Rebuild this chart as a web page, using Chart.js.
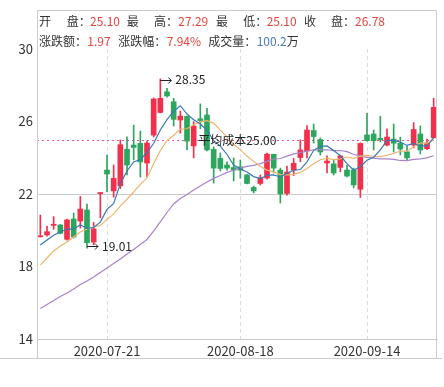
<!DOCTYPE html>
<html><head><meta charset="utf-8">
<script src="https://cdn.jsdelivr.net/npm/chart.js@4"></script>
<style>
html,body{margin:0;padding:0;background:#fff;}
#wrap{position:relative;width:444px;height:387px;overflow:hidden;}
#c{position:absolute;left:0;top:0;}
.h{position:absolute;font-size:12px;font-family:"Noto Sans CJK SC",sans-serif;line-height:14px;white-space:nowrap;color:#333;}
.r{color:#e8433c;}
.b{color:#4b7db6;}
</style></head>
<body><div id="wrap"><canvas id="c" width="444" height="387"></canvas><div id="hdr"></div></div>
<script>
const dates = ['2020-07-07','2020-07-08','2020-07-09','2020-07-10','2020-07-13','2020-07-14','2020-07-15','2020-07-16','2020-07-17','2020-07-20',
'2020-07-21','2020-07-22','2020-07-23','2020-07-24','2020-07-27','2020-07-28','2020-07-29','2020-07-30','2020-07-31',
'2020-08-03','2020-08-04','2020-08-05','2020-08-06','2020-08-07','2020-08-10','2020-08-11','2020-08-12','2020-08-13','2020-08-14','2020-08-17','2020-08-18','2020-08-19','2020-08-20','2020-08-21','2020-08-24','2020-08-25','2020-08-26','2020-08-27','2020-08-28','2020-08-31',
'2020-09-01','2020-09-02','2020-09-03','2020-09-04','2020-09-07','2020-09-08','2020-09-09','2020-09-10','2020-09-11','2020-09-14','2020-09-15','2020-09-16','2020-09-17','2020-09-18','2020-09-21','2020-09-22','2020-09-23','2020-09-24','2020-09-25','2020-09-28'];

const openP  = [19.64,19.74,20.27,20.29,19.50,20.62,20.51,21.12,19.35,22.02, 23.32,22.17,22.45,24.47,24.70,24.79,23.71,25.25,26.50,27.64, 27.09,26.08,26.28,24.65,26.15,26.36,24.46,23.97,23.60,23.46, 23.50,23.05,22.36,22.58,22.88,24.19,23.32,22.03,23.32,24.01, 24.37,25.50,25.00,23.71,23.66,23.47,23.32,23.32,22.26,25.26, 25.31,25.07,24.70,25.03,24.80,24.33,24.70,25.31,24.50,25.10];
const highP  = [20.84,20.23,20.75,20.32,20.62,20.95,21.86,21.45,20.43,22.08, 24.15,23.60,24.98,25.16,25.80,25.47,24.92,27.30,28.35,27.83, 27.28,26.58,26.30,25.99,26.97,26.73,24.60,24.26,23.77,23.99, 23.88,23.08,22.44,23.05,24.26,24.20,23.43,23.54,23.96,24.98, 25.78,25.86,25.09,24.10,23.88,24.15,23.60,23.43,24.82,26.45, 25.53,26.28,25.59,25.86,25.14,24.65,25.94,25.75,25.03,27.29];
const lowP   = [19.62,19.68,20.05,19.80,19.45,19.57,20.12,19.01,19.19,20.68, 22.13,21.83,22.30,23.05,23.88,22.94,22.94,25.14,26.47,27.34, 25.75,25.36,24.43,23.99,25.60,24.37,22.60,23.27,23.32,22.72, 22.88,22.55,22.06,22.50,22.82,23.16,21.50,21.94,23.02,23.78, 23.99,24.81,24.15,23.16,23.05,23.23,22.94,22.33,21.81,24.92, 24.43,24.88,24.65,24.32,24.15,23.88,24.54,24.21,24.45,25.10];
const closeP = [19.66,19.92,20.33,19.83,20.57,19.63,21.17,19.31,20.07,22.08, 23.10,22.86,24.72,23.60,24.57,23.77,24.81,27.24,27.28,27.41, 26.12,26.30,24.92,25.75,26.05,24.43,23.43,23.41,23.43,23.32, 23.32,22.58,22.17,22.88,24.20,23.43,22.00,23.21,23.69,24.43, 25.53,25.17,24.32,23.82,23.16,24.10,22.99,22.50,24.79,24.94, 24.94,25.00,25.14,24.80,24.48,23.99,25.56,24.43,24.81,26.78];

const ma5  = [19.19,19.46,19.72,19.90,20.07,20.06,20.31,20.10,20.15,20.45, 21.15,21.48,22.57,23.27,23.77,23.90,24.29,24.80,25.53,26.10, 26.57,26.87,26.41,26.10,25.86,25.52,24.94,24.64,24.18,23.60, 23.38,23.21,22.96,22.85,23.03,23.05,22.94,23.14,23.31,23.35, 23.77,24.41,24.63,24.65,24.40,24.11,23.68,23.31,23.51,23.86, 24.03,24.43,24.96,24.96,24.87,24.68,24.79,24.65,24.65,25.11];
const ma10 = [18.08,18.47,18.86,19.13,19.35,19.63,19.90,20.07,20.18,20.26, 20.60,20.90,21.33,21.71,22.11,22.53,22.89,23.68,24.40,24.94, 25.24,25.58,25.60,25.82,25.98,26.05,25.91,25.52,25.14,24.73, 24.45,24.08,23.80,23.52,23.32,23.22,23.07,23.05,23.08,23.19, 23.41,23.67,23.89,23.98,23.88,23.94,24.04,23.97,24.08,24.13, 24.07,24.06,24.14,24.24,24.37,24.36,24.61,24.81,24.81,24.99];
const ma30 = [15.68,15.90,16.12,16.34,16.54,16.76,17.01,17.20,17.42,17.67, 17.92,18.17,18.41,18.69,18.94,19.21,19.49,19.96,20.46,20.98, 21.45,21.75,21.97,22.22,22.44,22.66,22.86,23.02,23.19,23.31, 23.43,23.52,23.58,23.68,23.80,23.93,23.96,24.09,24.21,24.29, 24.37,24.44,24.43,24.44,24.39,24.40,24.34,24.18,24.10,24.02, 23.98,23.94,23.94,23.91,23.85,23.84,23.91,23.94,23.99,24.11];

const xTickLabels = ['2020-07-21','2020-08-18','2020-09-14'];
const yTicks = [14,18,22,26,30];
const avgCost = 25.00;
const volumeText = '100.2';

const FONT = '"Noto Sans CJK SC","Noto Sans",sans-serif';
const upColor = '#f0304c', downColor = '#2ba65c';
const candleColors = closeP.map((c, i) => c >= openP[i] ? upColor : downColor);

// header
const last = closeP.length - 1;
const chg = closeP[last] - closeP[last - 1];
const pct = chg / closeP[last - 1] * 100;
const hdrItems = [
  ['开', 39, 14, ''], ['盘：', 66.7, 14, ''], [openP[last].toFixed(2), 90, 14, 'r'],
  ['最', 126.7, 14, ''], ['高：', 154, 14, ''], [highP[last].toFixed(2), 178.3, 14, 'r'],
  ['最', 216, 14, ''], ['低：', 243.3, 14, ''], [lowP[last].toFixed(2), 266.7, 14, 'r'],
  ['收', 304, 14, ''], ['盘：', 331, 14, ''], [closeP[last].toFixed(2), 355, 14, 'r'],
  ['涨跌额：', 39, 33.5, ''], [chg.toFixed(2), 87.3, 33.5, 'r'],
  ['涨跌幅：', 118.3, 33.5, ''], [pct.toFixed(2) + '%', 166.7, 33.5, 'r'],
  ['成交量：', 208.3, 33.5, ''], [volumeText, 256.7, 33.5, 'b']
];
const hdr = document.getElementById('hdr');
hdrItems.forEach(([t, x, y, cls]) => {
  const s = document.createElement('span');
  s.className = 'h' + (cls ? ' ' + cls : '');
  s.style.left = x + 'px'; s.style.top = y + 'px';
  s.textContent = t;
  if (cls === 'b') { const w = document.createElement('span'); w.style.color = '#333'; w.textContent = '万'; s.appendChild(w); }
  hdr.appendChild(s);
});

function drawMarker(ctx, x0, y0, text) {
  const yy = Math.round(y0) + 0.5;
  ctx.beginPath();
  ctx.moveTo(x0, yy); ctx.lineTo(x0 + 11, yy);
  ctx.moveTo(x0 + 8, yy - 3); ctx.lineTo(x0 + 11, yy); ctx.lineTo(x0 + 8, yy + 3);
  ctx.stroke();
  ctx.fillText(text, x0 + 15, y0);
}

const framePlugin = {
  id: 'frame',
  beforeDatasetsDraw(chart) {
    const {ctx, chartArea, scales: {y}} = chart;
    const py = Math.round(y.getPixelForValue(avgCost)) + 0.5;
    ctx.save();
    ctx.strokeStyle = '#e0579c';
    ctx.lineWidth = 1;
    ctx.setLineDash([2, 3]);
    ctx.beginPath(); ctx.moveTo(chartArea.left, py); ctx.lineTo(chartArea.right, py); ctx.stroke();
    ctx.restore();
  },
  afterDatasetsDraw(chart) {
    const {ctx, scales: {x, y}} = chart;
    ctx.save();
    ctx.font = '12px ' + FONT;
    ctx.fillStyle = '#222';
    ctx.strokeStyle = '#222';
    ctx.lineWidth = 1;
    ctx.textBaseline = 'middle';
    ctx.textAlign = 'left';
    ctx.fillText('平均成本' + avgCost.toFixed(2), x.getPixelForValue(24) - 2, y.getPixelForValue(avgCost) + 1);
    let hi = 0, lo = 0;
    highP.forEach((v, i) => { if (v > highP[hi]) hi = i; });
    lowP.forEach((v, i) => { if (v < lowP[lo]) lo = i; });
    drawMarker(ctx, x.getPixelForValue(hi), y.getPixelForValue(highP[hi]) + 1, highP[hi].toFixed(2));
    drawMarker(ctx, x.getPixelForValue(lo), y.getPixelForValue(lowP[lo]) - 2, lowP[lo].toFixed(2));
    ctx.restore();
  },
  afterDraw(chart) {
    const {ctx} = chart;
    ctx.save();
    ctx.strokeStyle = '#cccccc';
    ctx.lineWidth = 1;
    ctx.beginPath();
    ctx.moveTo(37.5, 10.5); ctx.lineTo(436.5, 10.5);
    ctx.moveTo(37.5, 10.5); ctx.lineTo(37.5, 358.5);
    ctx.moveTo(436.5, 10.5); ctx.lineTo(436.5, 358.5);
    ctx.moveTo(0, 358.5); ctx.lineTo(442, 358.5);
    ctx.stroke();
    ctx.restore();
  }
};

Chart.defaults.font.family = FONT;
new Chart(document.getElementById('c'), {
  type: 'bar',
  data: {
    labels: dates,
    datasets: [
      {type: 'line', label: 'MA5', data: ma5, borderColor: '#3b78b3', borderWidth: 1.2, pointRadius: 0, fill: false, order: 0},
      {type: 'line', label: 'MA10', data: ma10, borderColor: '#efb56e', borderWidth: 1.2, pointRadius: 0, fill: false, order: 0},
      {type: 'line', label: 'MA30', data: ma30, borderColor: '#a983c9', borderWidth: 1.2, pointRadius: 0, fill: false, order: 0},
      {type: 'bar', label: 'wick', data: lowP.map((l, i) => [l, highP[i]]), backgroundColor: candleColors, barThickness: 1, grouped: false, borderWidth: 0, order: 2},
      {type: 'bar', label: 'body', data: openP.map((o, i) => [o, closeP[i]]), backgroundColor: candleColors, barThickness: 5, grouped: false, borderWidth: 0, minBarLength: 1, order: 1}
    ]
  },
  options: {
    responsive: false,
    animation: false,
    devicePixelRatio: 1,
    layout: {padding: {top: 49, right: 7, bottom: 28, left: 0}},
    plugins: {legend: {display: false}, tooltip: {enabled: false}},
    scales: {
      x: {
        type: 'category',
        offset: true,
        afterFit: s => { s.height = 20; },
        grid: {
          offset: false, drawTicks: false, lineWidth: 1,
          color: c => (c.tick && xTickLabels.includes(dates[c.tick.value])) ? '#dddddd' : 'rgba(0,0,0,0)'
        },
        border: {display: true, color: '#cccccc', dash: [4, 3]},
        ticks: {
          autoSkip: false, maxRotation: 0, padding: 4, color: '#333',
          font: {size: 13},
          callback: (v, i) => xTickLabels.includes(dates[i]) ? dates[i] : ''
        }
      },
      y: {
        min: 14, max: 30,
        afterFit: s => { s.width = 37; },
        afterBuildTicks: s => { s.ticks = yTicks.map(v => ({value: v})); },
        grid: {drawTicks: false, color: c => (c.tick && c.tick.value === 22) ? '#cccccc' : 'rgba(0,0,0,0)'},
        border: {display: false},
        ticks: {padding: 4, color: '#333', font: {size: 13}}
      }
    }
  },
  plugins: [framePlugin]
});
</script>
</body></html>
